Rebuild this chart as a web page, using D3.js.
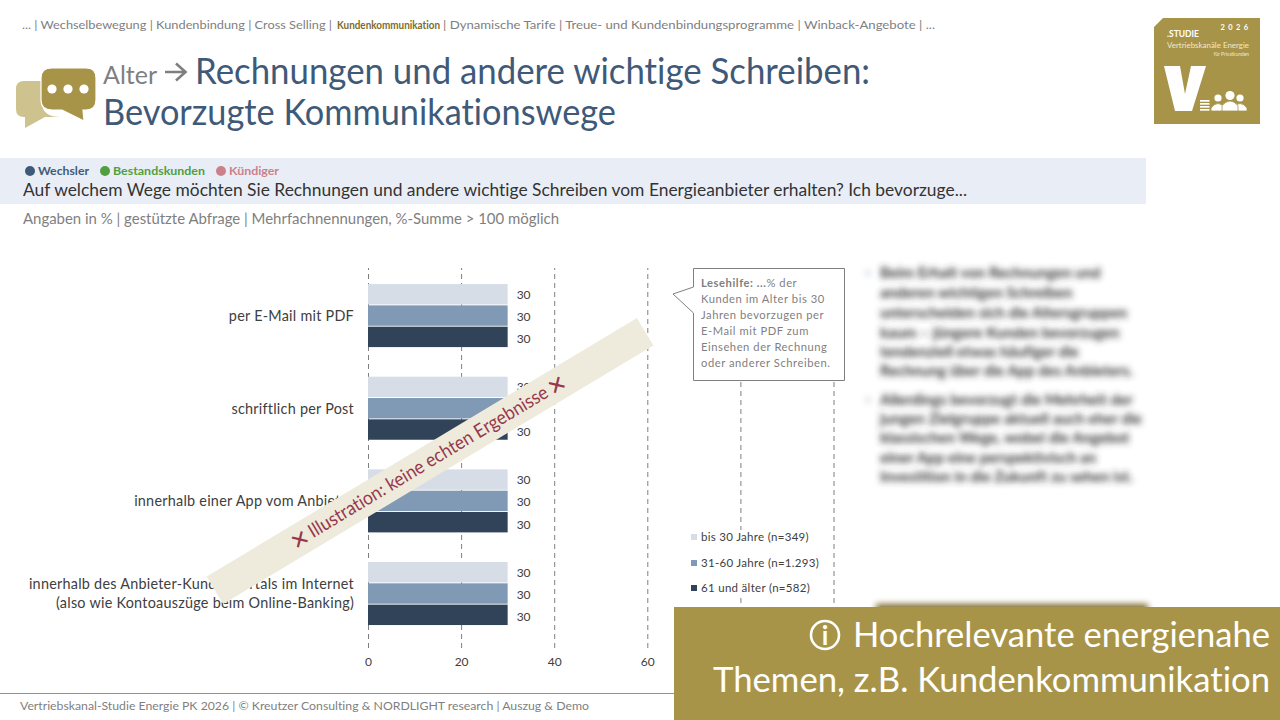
<!DOCTYPE html>
<html lang="de">
<head>
<meta charset="utf-8">
<script src="https://cdn.jsdelivr.net/npm/d3@7"></script>
<style>
    html, body { margin: 0; padding: 0; background: #fff; }
    svg { display: block; }
    text { font-family: Lato, "Open Sans", sans-serif; font-variant-ligatures: none; }
</style>
</head>
<body>
<div id="chart"></div>
<script>
const CATEGORIES = [
    ["per E-Mail mit PDF"],
    ["schriftlich per Post"],
    ["innerhalb einer App vom Anbieter"],
    ["innerhalb des Anbieter-Kundenportals im Internet", "(also wie Kontoauszüge beim Online-Banking)"]
];
const SERIES = ["bis 30 Jahre (n=349)", "31-60 Jahre (n=1.293)", "61 und älter (n=582)"];
const SERIES_COLORS = ["#d6dde7", "#809ab5", "#314358"];
const VALUES_YOUNG = [30, 30, 30, 30];
const VALUES_MIDDLE = [30, 30, 30, 30];
const VALUES_OLD = [30, 30, 30, 30];
const TICKS = [0, 20, 40, 60, 80, 100];
const LABELLED_TICKS = [0, 20, 40, 60];

const GOLD = "#a89449";
const GREY = "#7f7f7f";

const LESEHILFE = [
    "% der",
    "Kunden im Alter bis 30",
    "Jahren bevorzugen per",
    "E-Mail mit PDF zum",
    "Einsehen der Rechnung",
    "oder anderer Schreiben."
];
const BLURRED_TEXT = [
    [273, "Beim Erhalt von Rechnungen und"],
    [293, "anderen wichtigen Schreiben"],
    [313, "unterscheiden sich die Altersgruppen"],
    [333, "kaum – jüngere Kunden bevorzugen"],
    [352, "tendenziell etwas häufiger die"],
    [371, "Rechnung über die App des Anbieters."],
    [400, "Allerdings bevorzugt die Mehrheit der"],
    [419, "jungen Zielgruppe aktuell auch eher die"],
    [438, "klassischen Wege, wobei die Angebot"],
    [458, "einer App eine perspektivisch an"],
    [477, "Investition in die Zukunft zu sehen ist."]
];

const svg = d3.select("#chart").append("svg")
    .attr("width", 1280)
    .attr("height", 720)
    .attr("viewBox", "0 0 1280 720");

svg.append("defs").append("filter")
    .attr("id", "blur")
    .attr("x", "-10%").attr("y", "-50%").attr("width", "120%").attr("height", "200%")
    .append("feGaussianBlur")
    .attr("stdDeviation", 3.1);

const label = (parent, x, y, txt, size, fill, opts = {}) => {
    const node = parent.append("text")
        .attr("x", x)
        .attr("y", y)
        .attr("font-size", size)
        .attr("fill", fill)
        .attr("font-weight", opts.weight || 400)
        .attr("text-anchor", opts.anchor || "start")
        .attr("letter-spacing", opts.spacing || 0)
        .text(txt);
    // squeeze to the width measured on the reference, the fallback font runs wider
    if (opts.length) node.attr("textLength", opts.length).attr("lengthAdjust", "spacingAndGlyphs");
    return node;
};

// header
label(svg, 22, 29, "... | Wechselbewegung | Kundenbindung | Cross Selling |", 11.8, GREY, {length: 310});
label(svg, 337, 29, "Kundenkommunikation", 11.8, "#7d6c2e", {weight: 700, length: 103});
label(svg, 443, 29, "| Dynamische Tarife | Treue- und Kundenbindungsprogramme | Winback-Angebote | ...", 11.8, GREY, {length: 492});

const icon = svg.append("g");
icon.append("path")
    .attr("d", "M24,81 H42 V104 Q43,117 61,117 H45 L25,128 V117 H24 Q16,117 16,109 V89 Q16,81 24,81 Z")
    .attr("fill", "#cec28f");
icon.append("path")
    .attr("d", "M52,68 H86 Q96,68 96,78 V100 Q96,110 86,110 H83 L84,121 L62,110 H52 Q41,110 41,100 V78 Q41,68 52,68 Z")
    .attr("fill", GOLD)
    .attr("stroke", "#fff")
    .attr("stroke-width", 1.2);
icon.selectAll("circle").data([52, 68, 84]).join("circle")
    .attr("cx", d => d)
    .attr("cy", 89)
    .attr("r", 4.6)
    .attr("fill", "#fff");

label(svg, 103, 84, "Alter", 25, GREY);
svg.append("path")
    .attr("d", "M165,72 H185 M176,63.5 L185.5,72 L176,80.5")
    .attr("fill", "none")
    .attr("stroke", GREY)
    .attr("stroke-width", 2.6);
label(svg, 195, 84, "Rechnungen und andere wichtige Schreiben:", 36, "#3f5a78", {length: 675});
label(svg, 103, 125, "Bevorzugte Kommunikationswege", 36, "#3f5a78", {length: 513});

// study badge
const badge = svg.append("g");
badge.append("path")
    .attr("d", "M1163,18 H1260 V124 H1154 V27 Z")
    .attr("fill", GOLD);
label(badge, 1249, 30, "2 0 2 6", 7.5, "#fff", {weight: 700, anchor: "end", spacing: 0.8});
label(badge, 1167, 37, ".STUDIE", 8.5, "#fff", {weight: 700});
label(badge, 1167, 48, "Vertriebskanäle Energie", 8.2, "#f0e9ce", {length: 82});
label(badge, 1249, 56, "für Privatkunden", 4.8, "#f0e9ce", {anchor: "end"});
badge.append("path")
    .attr("d", "M1164,66 H1180 L1185,94 L1191,66 H1206 L1192,111 H1175 Z")
    .attr("fill", "#fff");
badge.selectAll("rect.line").data([100, 103, 106, 109]).join("rect")
    .attr("class", "line")
    .attr("x", 1200).attr("y", d => d)
    .attr("width", 9.5).attr("height", 1.7)
    .attr("fill", "#fff");
const people = [[1218, 98, 3.6, 7], [1240, 98, 3.6, 7], [1230, 95.5, 4.6, 8]];
badge.selectAll("circle").data(people).join("circle")
    .attr("cx", d => d[0])
    .attr("cy", d => d[1])
    .attr("r", d => d[2])
    .attr("fill", "#fff");
badge.selectAll("path.body").data(people).join("path")
    .attr("class", "body")
    .attr("d", d => `M${d[0] - d[3]},111 V${d[1] + 10} Q${d[0]},${d[1] + 1} ${d[0] + d[3]},${d[1] + 10} V111 Z`)
    .attr("fill", "#fff")
    .attr("stroke", GOLD)
    .attr("stroke-width", 0.8);

// question band
svg.append("rect")
    .attr("x", 0).attr("y", 158)
    .attr("width", 1146).attr("height", 46)
    .attr("fill", "#e9eef6");
const groups = [
    {cx: 30, x: 38, name: "Wechsler", color: "#3f5a78", length: 51},
    {cx: 105, x: 113, name: "Bestandskunden", color: "#519f3f", length: 92},
    {cx: 221, x: 229, name: "Kündiger", color: "#cb818b", length: 50}
];
groups.forEach(g => {
    svg.append("circle").attr("cx", g.cx).attr("cy", 171).attr("r", 5).attr("fill", g.color);
    label(svg, g.x, 175, g.name, 12.2, g.color, {weight: 700, length: g.length});
});
label(svg, 23, 196, "Auf welchem Wege möchten Sie Rechnungen und andere wichtige Schreiben vom Energieanbieter erhalten? Ich bevorzuge...", 17.8, "#333", {length: 944});
label(svg, 23, 224, "Angaben in % | gestützte Abfrage | Mehrfachnennungen, %-Summe > 100 möglich", 14.4, GREY, {length: 536});

// chart
const x = d3.scaleLinear().domain([0, 100]).range([368, 833.5]);
const y = d3.scaleBand()
    .domain(d3.range(CATEGORIES.length))
    .range([269.7, 640.3])
    .paddingInner(0.31)
    .paddingOuter(0.155);
const yInner = d3.scaleBand().domain(d3.range(SERIES.length)).range([0, y.bandwidth()]);

const axis = svg.append("g")
    .attr("transform", "translate(0,648)")
    .call(d3.axisBottom(x)
        .tickValues(TICKS)
        .tickSize(-380)
        .tickPadding(9)
        .tickFormat(d => LABELLED_TICKS.includes(d) ? d : ""));
axis.select(".domain").remove();
axis.selectAll(".tick line")
    .attr("stroke", GREY)
    .attr("stroke-width", 1)
    .attr("stroke-dasharray", "5 4");
axis.selectAll(".tick text")
    .attr("font-size", 12)
    .attr("fill", "#404040")
    .style("font-family", "Lato");

const allValues = [VALUES_YOUNG, VALUES_MIDDLE, VALUES_OLD];
const rows = svg.append("g").selectAll("g")
    .data(CATEGORIES)
    .join("g")
    .attr("transform", (d, i) => `translate(0,${y(i)})`);

rows.selectAll("rect")
    .data((d, i) => allValues.map((vals, s) => ({s, value: vals[i]})))
    .join("rect")
    .attr("x", x(0))
    .attr("y", d => yInner(d.s))
    .attr("width", d => x(d.value) - x(0))
    .attr("height", yInner.bandwidth() - 0.9)
    .attr("fill", d => SERIES_COLORS[d.s]);

rows.selectAll("text.value")
    .data((d, i) => allValues.map((vals, s) => ({s, value: vals[i]})))
    .join("text")
    .attr("class", "value")
    .attr("x", d => x(d.value) + 9)
    .attr("y", d => yInner(d.s) + yInner.bandwidth() / 2 + 4 + d.s)
    .attr("font-size", 12)
    .attr("fill", "#404040")
    .text(d => d.value);

rows.each(function(lines) {
    const row = d3.select(this);
    lines.forEach((line, i) => {
        const offset = (i - (lines.length - 1) / 2) * 19 + 5;
        label(row, 354, y.bandwidth() / 2 + offset, line, 14.4, "#404040", {anchor: "end", spacing: 0.25});
    });
});

// legend, its white box covers the 80 gridline
svg.append("rect")
    .attr("x", 685).attr("y", 530)
    .attr("width", 140).attr("height", 67)
    .attr("fill", "#fff");
const legend = svg.append("g").selectAll("g")
    .data(SERIES)
    .join("g")
    .attr("transform", (d, i) => `translate(691,${[534, 560, 585][i]})`);
legend.append("rect")
    .attr("width", 6).attr("height", 6)
    .attr("fill", (d, i) => SERIES_COLORS[i]);
legend.append("text")
    .attr("x", 10).attr("y", 7)
    .attr("font-size", 11.5)
    .attr("letter-spacing", 0.3)
    .attr("fill", "#404040")
    .text(d => d);

// reading help
svg.append("path")
    .attr("d", "M693.5,268.5 H844.5 V380.5 H693.5 V313 L673,294 L693.5,287 Z")
    .attr("fill", "#fff")
    .attr("stroke", GREY);
const help = label(svg, 701, 287, "", 11.2, GREY, {spacing: 0.55});
help.append("tspan").attr("font-weight", 700).text("Lesehilfe: ...");
help.append("tspan").text(LESEHILFE[0]);
LESEHILFE.slice(1).forEach((line, i) => label(svg, 701, 303 + i * 16, line, 11.2, GREY, {spacing: 0.55}));

// blurred commentary
const blurred = svg.append("g").attr("filter", "url(#blur)");
BLURRED_TEXT.forEach(d => label(blurred, 880, d[0] + 5, d[1], 15, "#333", {weight: 700}));
blurred.selectAll("circle").data([273, 400]).join("circle")
    .attr("cx", 868).attr("cy", d => d).attr("r", 3).attr("fill", "#d6dde7");
blurred.append("rect")
    .attr("x", 876).attr("y", 604)
    .attr("width", 272).attr("height", 20)
    .attr("fill", "#7d6c2e");

// illustration banner
const banner = svg.append("g").attr("transform", "translate(430,461) rotate(-31)");
banner.append("rect")
    .attr("x", -251).attr("y", -16)
    .attr("width", 502).attr("height", 32)
    .attr("fill", "#eeebdc");
label(banner, -2, 6, "Illustration: keine echten Ergebnisse", 19, "#98384c", {anchor: "middle", length: 276});
[-152, 148].forEach(pos => {
    label(banner, pos, 8, "✕", 22, "#98384c", {anchor: "middle", weight: 700}).style("font-family", "'DejaVu Sans'");
});

// footer
svg.append("line")
    .attr("x1", 0).attr("x2", 674)
    .attr("y1", 693.5).attr("y2", 693.5)
    .attr("stroke", GOLD);
label(svg, 20, 710, "Vertriebskanal-Studie Energie PK 2026 | © Kreutzer Consulting & NORDLIGHT research | Auszug & Demo", 12, GREY, {length: 569});

svg.append("rect")
    .attr("x", 674).attr("y", 607)
    .attr("width", 606).attr("height", 113)
    .attr("fill", GOLD);
svg.append("circle")
    .attr("cx", 825).attr("cy", 635).attr("r", 14)
    .attr("fill", "none")
    .attr("stroke", "#fff")
    .attr("stroke-width", 2.6);
label(svg, 825, 645, "i", 26, "#fff", {anchor: "middle", weight: 700});
label(svg, 1270, 647, "Hochrelevante energienahe", 35, "#fff", {anchor: "end", length: 417});
label(svg, 1270, 692, "Themen, z.B. Kundenkommunikation", 35, "#fff", {anchor: "end", length: 557});
</script>
</body>
</html>
